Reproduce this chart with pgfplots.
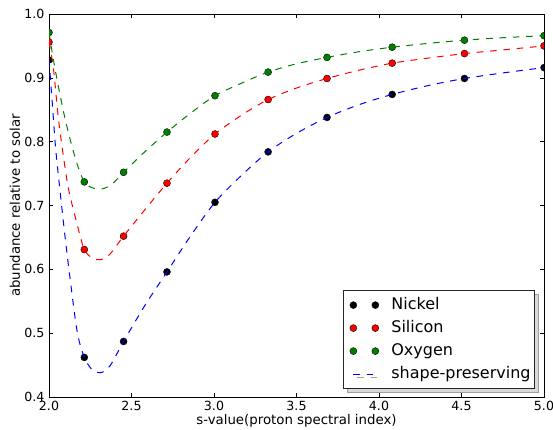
\documentclass[border=0pt]{standalone}
\usepackage{fontspec}
\setmainfont{DejaVu Sans}
\usepackage{pgfplots}
\pgfplotsset{compat=1.18}
\usetikzlibrary{shadows}
\definecolor{mplgreen}{rgb}{0,0.5,0}
\pgfplotsset{
  twomarks/.style={legend image code/.code={\path (-7bp,0bp); \draw[##1] plot[only marks] coordinates {(0bp,0bp) (22bp,0bp)};}},
  dashlegend/.style={legend image code/.code={\path (-7bp,0bp); \draw[##1] (0bp,0bp) -- (22bp,0bp);}},
}
\begin{document}
\fontsize{13.33bp}{16bp}\selectfont
\begin{tikzpicture}
\begin{axis}[
  scale only axis, width=495bp, height=383bp,
  xmin=2, xmax=5, ymin=0.4, ymax=1.0,
  xtick={2.0,2.5,3.0,3.5,4.0,4.5,5.0},
  ytick={0.4,0.5,0.6,0.7,0.8,0.9,1.0},
  /pgf/number format/fixed, /pgf/number format/fixed zerofill,
  /pgf/number format/precision=1, /pgf/number format/assume math mode=true,
  tick label style={font=\fontsize{12.6bp}{15bp}\selectfont},
  tick align=inside, major tick length=4.4bp,
  tick style={black, line width=0.6bp},
  axis line style={black, line width=0.9bp},
  clip marker paths=true,
  xlabel={s-value(proton spectral index)},
  ylabel={abundance relative to solar},
  xlabel style={at={(axis description cs:0.5,-0.0627)}, anchor=center},
  ylabel style={at={(axis description cs:-0.0687,0.5)}, anchor=center},
  legend style={at={(rel axis cs:1,0)}, anchor=south east, xshift=-9bp, yshift=8bp,
    draw=black!85, line width=0.8bp, fill=white, inner xsep=2.5bp, inner ysep=5bp,
    row sep=4bp, column sep=11bp,
    drop shadow={shadow xshift=4bp, shadow yshift=-3.5bp, fill=gray!30, draw=gray!75, line width=0.8bp, opacity=1},
    nodes={inner sep=1.5bp, text height=12bp, text depth=4bp},
    font=\fontsize{16bp}{19bp}\selectfont},
  legend cell align=left,
]
% markers
\addplot[only marks, mark=*, mark size=3.5bp, mark options={draw=black, fill=black, line width=0.4bp}, twomarks]
 coordinates {(2.000,0.928) (2.214,0.462) (2.452,0.487) (2.715,0.596) (3.006,0.705) (3.328,0.784) (3.685,0.838) (4.080,0.874) (4.518,0.899) (5.000,0.916)};
\addlegendentry{Nickel}
\addplot[only marks, mark=*, mark size=3.5bp, mark options={draw=black, fill=red, line width=0.4bp}, twomarks]
 coordinates {(2.000,0.956) (2.214,0.631) (2.452,0.652) (2.715,0.735) (3.006,0.812) (3.328,0.866) (3.685,0.899) (4.080,0.923) (4.518,0.938) (5.000,0.950)};
\addlegendentry{Silicon}
\addplot[only marks, mark=*, mark size=3.5bp, mark options={draw=black, fill=mplgreen, line width=0.4bp}, twomarks]
 coordinates {(2.000,0.971) (2.214,0.737) (2.452,0.752) (2.715,0.815) (3.006,0.872) (3.328,0.909) (3.685,0.932) (4.080,0.948) (4.518,0.959) (5.000,0.966)};
\addlegendentry{Oxygen}
% curves
\addplot[blue, line width=1bp, dash pattern=on 6.67bp off 6.67bp, smooth, no marks, dashlegend]
 coordinates {(2.000,0.928) (2.020,0.860) (2.040,0.790) (2.068,0.720) (2.100,0.645) (2.129,0.583) (2.169,0.505) (2.204,0.469) (2.250,0.446) (2.311,0.438) (2.370,0.449) (2.452,0.487) (2.580,0.543) (2.715,0.596) (2.860,0.653) (3.006,0.705) (3.170,0.748) (3.328,0.784) (3.500,0.813) (3.685,0.838) (3.880,0.858) (4.080,0.874) (4.300,0.888) (4.518,0.899) (4.760,0.908) (5.000,0.916)};
\addlegendentry{shape-preserving}
\addplot[red, line width=1bp, dash pattern=on 6.67bp off 6.67bp, smooth, no marks, forget plot]
 coordinates {(2.000,0.956) (2.028,0.912) (2.058,0.834) (2.099,0.756) (2.123,0.720) (2.179,0.662) (2.214,0.631) (2.260,0.618) (2.311,0.615) (2.370,0.624) (2.452,0.652) (2.580,0.693) (2.715,0.735) (2.860,0.776) (3.006,0.812) (3.170,0.842) (3.328,0.866) (3.500,0.884) (3.685,0.899) (3.880,0.912) (4.080,0.923) (4.300,0.931) (4.518,0.938) (4.760,0.944) (5.000,0.950)};
\addplot[mplgreen, line width=1bp, dash pattern=on 6.67bp off 6.67bp, smooth, no marks, forget plot]
 coordinates {(2.000,0.971) (2.038,0.912) (2.099,0.834) (2.163,0.771) (2.214,0.737) (2.260,0.728) (2.320,0.726) (2.380,0.733) (2.452,0.752) (2.580,0.784) (2.715,0.815) (2.860,0.845) (3.006,0.872) (3.170,0.892) (3.328,0.909) (3.500,0.922) (3.685,0.932) (3.880,0.941) (4.080,0.948) (4.300,0.954) (4.518,0.959) (4.760,0.963) (5.000,0.966)};
\end{axis}
\pgfresetboundingbox
\path (-49bp,-33bp) rectangle (504bp,397bp);
\end{tikzpicture}
\end{document}
